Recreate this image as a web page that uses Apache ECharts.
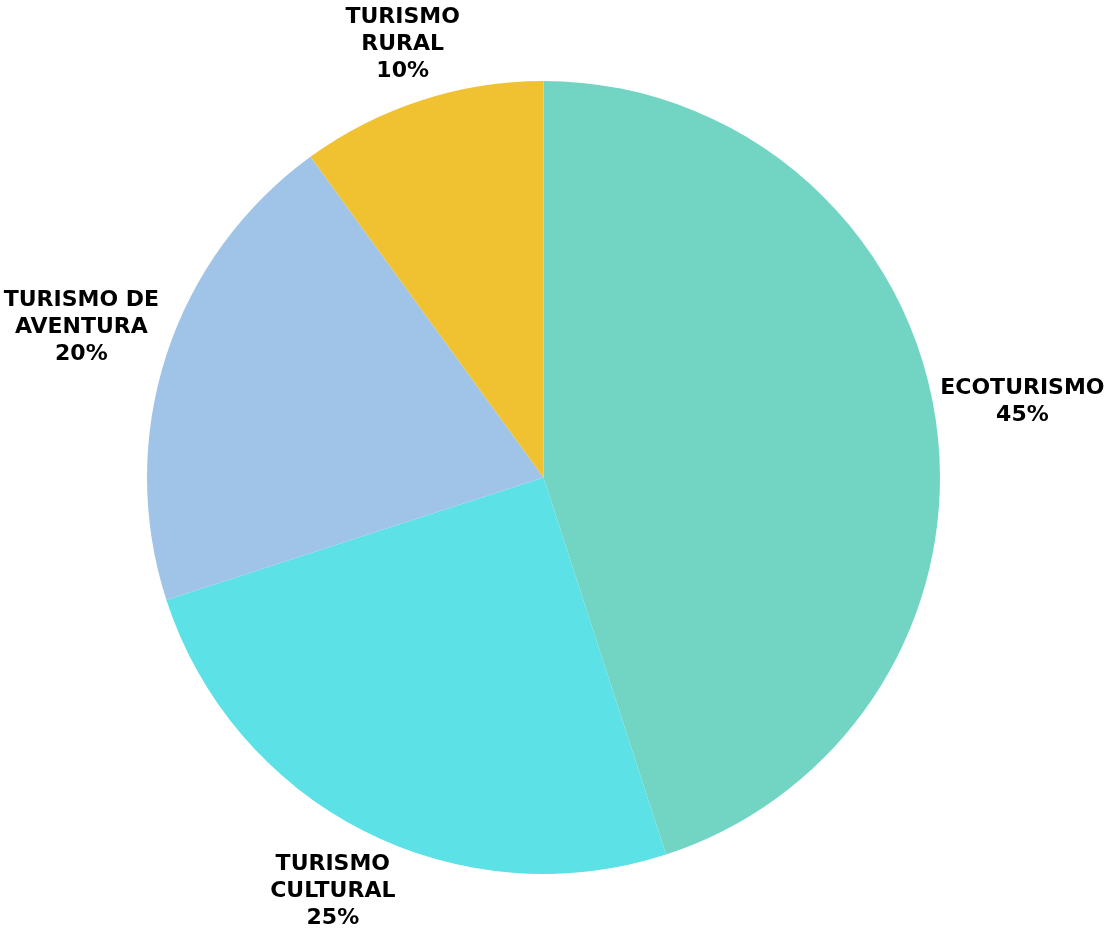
<!DOCTYPE html>
<html>
<head>
<meta charset="utf-8">
<script src="https://cdn.jsdelivr.net/npm/echarts@6/dist/echarts.min.js"></script>
<style>
html,body{margin:0;padding:0;background:#fff;}
#chart{width:1116px;height:932px;}
</style>
</head>
<body>
<div id="chart"></div>
<script>
var categories = ['ECOTURISMO', 'TURISMO\nCULTURAL', 'TURISMO DE\nAVENTURA', 'TURISMO\nRURAL'];
var values = [45, 25, 20, 10];
var colors = ['#72D5C3', '#5CE1E6', '#A0C4E8', '#F0C232'];

var chart = echarts.init(document.getElementById('chart'));
var data = categories.map(function (c, i) {
  return { name: c, value: values[i], itemStyle: { color: colors[i] } };
});

chart.setOption({
  animation: false,
  backgroundColor: '#ffffff',
  series: [{
    type: 'pie',
    center: [543.5, 477.5],
    radius: [0, 396.5],
    startAngle: 90,
    clockwise: true,
    avoidLabelOverlap: false,
    data: data,
    label: {
      show: true,
      position: 'outside',
      formatter: function (p) { return p.name + '\n' + p.value + '%'; },
      fontFamily: 'DejaVu Sans',
      fontWeight: 'bold',
      fontSize: 22,
      lineHeight: 27,
      color: '#000000',
      align: 'center'
    },
    labelLine: {
      show: true,
      length: 10,
      length2: 0,
      lineStyle: { opacity: 0, width: 0 }
    },
    emphasis: { disabled: true },
    labelLayout: function (params) {
      var pts = params.labelLinePoints;
      if (!pts || pts.length < 2) return {};
      var p0 = pts[0], p1 = pts[1];
      var dx = p1[0] - p0[0], dy = p1[1] - p0[1];
      var len = Math.sqrt(dx * dx + dy * dy) || 1;
      dx /= len; dy /= len;
      var w = params.labelRect.width, h = params.labelRect.height;
      var d = 3 + Math.abs(dx) * w / 2 + Math.abs(dy) * h / 2;
      return {
        x: p0[0] + dx * d,
        y: p0[1] + dy * d,
        align: 'center',
        verticalAlign: 'middle'
      };
    }
  }]
});
</script>
</body>
</html>
